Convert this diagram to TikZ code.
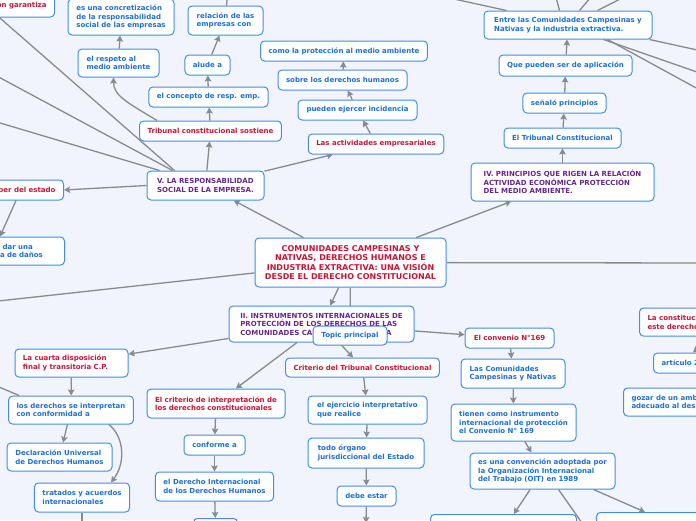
\documentclass[tikz,border=0pt]{standalone}
\usepackage{fontspec}
\setmainfont{DejaVu Sans}
\usepackage{tikz}
\usetikzlibrary{arrows.meta, backgrounds}
\definecolor{canvascolor}{RGB}{241,244,253}
\definecolor{bordercolor}{RGB}{66,142,228}
\definecolor{ideablue}{RGB}{28,112,214}
\definecolor{ideared}{RGB}{198,22,56}
\definecolor{ideapurple}{RGB}{104,38,140}
\definecolor{linkcolor}{RGB}{138,138,142}

\begin{document}
\begin{tikzpicture}[x=1pt, y=-1pt,
    idea/.style={draw=bordercolor, fill=white, line width=1pt, rounded corners=4pt, inner xsep=8pt, inner ysep=2pt, align=left, font=\fontsize{7}{8.5}\selectfont\bfseries},
    bluetxt/.style={idea, text=ideablue},
    redtxt/.style={idea, text=ideared},
    purpletxt/.style={idea, text=ideapurple},
    link/.style={linkcolor, line width=1.3pt, -{Stealth[length=6pt, width=6.5pt, inset=1pt]}}]

    \useasboundingbox (0,0) rectangle (696,520);

    % Central topic
    \node[idea, text=ideared, align=center, font=\fontsize{8}{9.6}\selectfont\bfseries, minimum width=191, minimum height=49] (central) at (350.5,262.5) {COMUNIDADES CAMPESINAS Y\\NATIVAS, DERECHOS HUMANOS E\\INDUSTRIA EXTRACTIVA: UNA VISIÓN\\DESDE EL DERECHO CONSTITUCIONAL};

    % V. Responsabilidad social
    \node[purpletxt, minimum width=117, minimum height=29] (respemp) at (205.5,185.5) {V. LA RESPONSABILIDAD\\SOCIAL DE LA EMPRESA.};
    \node[redtxt, minimum width=141, minimum height=20] (tribsost) at (210.5,131) {Tribunal constitucional sostiene};
    \node[bluetxt, minimum width=117, minimum height=20] (concepto) at (208.5,97) {el concepto de resp. emp.};
    \node[bluetxt, minimum width=45, minimum height=20] (alude) at (207.5,65) {alude a};
    \node[bluetxt, minimum width=75, minimum height=29] (relacion) at (225.5,20.5) {relación de las\\empresas con};
    \node[bluetxt, minimum width=81, minimum height=28] (respeto) at (118.5,63) {el respeto al\\medio ambiente};
    \node[bluetxt, minimum width=106, minimum height=36] (concret) at (121,17) {es una concretización\\de la responsabilidad\\social de las empresas};
    \node[redtxt, anchor=east, minimum height=23] (garantiza) at (55,5.5) {Constitución garantiza};
    \node[redtxt, anchor=east, minimum height=20] (deber) at (64,190) {Deber del estado};
    \node[bluetxt, anchor=west, text width=61, minimum height=28] (danos) at (-13,251) {o dar una\\va de daños};

    % Actividades empresariales
    \node[redtxt, minimum width=134, minimum height=20] (activ) at (376,144) {Las actividades empresariales};
    \node[bluetxt, minimum width=119, minimum height=20] (incid) at (357.5,110) {pueden ejercer incidencia};
    \node[bluetxt, minimum width=129, minimum height=20] (ddhh) at (342.5,80) {sobre los derechos humanos};
    \node[bluetxt, minimum width=166, minimum height=20] (protec) at (344,51) {como la protección al medio ambiente};

    % IV. Principios
    \node[purpletxt, minimum width=183, minimum height=38] (princ) at (562.5,182) {IV. PRINCIPIOS QUE RIGEN LA RELACIÓN\\ACTIVIDAD ECONÓMICA PROTECCIÓN\\DEL MEDIO AMBIENTE.};
    \node[bluetxt, minimum width=117, minimum height=20] (tcons) at (562.5,138) {El Tribunal Constitucional};
    \node[bluetxt, minimum width=83, minimum height=20] (senalo) at (564.5,103) {señaló principios};
    \node[bluetxt, minimum width=133, minimum height=21] (aplic) at (565.5,65.5) {Que pueden ser de aplicación};
    \node[bluetxt, minimum width=168, minimum height=28] (entre) at (568,25) {Entre las Comunidades Campesinas y\\Nativas y la industria extractiva.};

    % II. Instrumentos internacionales
    \node[purpletxt, minimum width=185, minimum height=36] (instr) at (321.5,324) {II. INSTRUMENTOS INTERNACIONALES DE\\PROTECCIÓN DE LOS DERECHOS DE LAS\\COMUNIDADES CAMPESINAS Y NATIVA};
    \node[bluetxt, minimum width=74, minimum height=19] (topic) at (350,335.5) {Topic principal};

    \node[redtxt, text width=97, minimum height=28] (cuarta) at (71.5,363) {La cuarta disposición\\final y transitoria C.P.};
    \node[bluetxt, minimum width=124, minimum height=28] (interp) at (71,410) {los derechos se interpretan\\con conformidad a};
    \node[bluetxt, minimum width=105, minimum height=28] (decl) at (59.5,457) {Declaración Universal\\de Derechos Humanos};
    \node[bluetxt, minimum width=94, minimum height=29] (trat) at (82,497.5) {tratados y acuerdos\\internacionales};

    \node[redtxt, minimum width=138, minimum height=29] (critint) at (216,403.5) {El criterio de interpretación de\\los derechos constitucionales};
    \node[bluetxt, minimum width=61, minimum height=20] (conforme) at (214.5,445) {conforme a};
    \node[bluetxt, minimum width=117, minimum height=29] (dih) at (214.5,486.5) {el Derecho Internacional\\de los Derechos Humanos};
    \node[bluetxt, anchor=north west, minimum width=44, minimum height=22] (dihnext) at (193,518) {};

    \node[redtxt, minimum width=153, minimum height=19] (critc) at (362.5,367.5) {Criterio del Tribunal Constitucional};
    \node[bluetxt, minimum width=119, minimum height=28] (ejerc) at (367.5,410) {el ejercicio interpretativo\\que realice};
    \node[bluetxt, minimum width=116, minimum height=30] (organo) at (366,453) {todo órgano\\jurisdiccional del Estado};
    \node[bluetxt, minimum width=59, minimum height=20] (debe) at (366.5,496) {debe estar};

    \node[redtxt, minimum width=89, minimum height=20] (convenio) at (509.5,338) {El convenio N°169};
    \node[bluetxt, minimum width=104, minimum height=29] (comun) at (513,373.5) {Las Comunidades\\Campesinas y Nativas};
    \node[bluetxt, minimum width=125, minimum height=37] (tienen) at (513.5,422.5) {tienen como instrumento\\internacional de protección\\el Convenio N° 169};
    \node[bluetxt, minimum width=145, minimum height=36] (oit) at (542.5,471) {es una convención adoptada por\\la Organización Internacional\\del Trabajo (OIT) en 1989};
    \node[bluetxt, anchor=north west, minimum width=146, minimum height=30] (oitleft) at (430,514) {};
    \node[bluetxt, anchor=north west, minimum width=130, minimum height=30] (oitright) at (596,512) {};

    % Right edge
    \node[redtxt, anchor=west, minimum height=28] (constit) at (639,322) {La constitución\\este derecho};
    \node[bluetxt, anchor=west, minimum height=20] (artic) at (653,363) {artículo 2};
    \node[bluetxt, anchor=west, minimum height=28] (gozar) at (623,402) {gozar de un ambiente\\adecuado al desarrollo};

    % Free ends outside the frame
    \coordinate (offA) at (-20,0.6);
    \coordinate (offB) at (-20,67);
    \coordinate (offC) at (-20,117);
    \coordinate (offG) at (228,-10);
    \coordinate (offL) at (-20,303);
    \coordinate (offR) at (720,263);
    \coordinate (offLL) at (-20,379);
    \coordinate (offT) at (82,545);
    \coordinate (offD) at (366,523);
    \coordinate (offE) at (594,540);
    \coordinate (offF) at (712,336);
    \coordinate (offH1) at (413,-10);
    \coordinate (offH2) at (554,-10);
    \coordinate (offH3) at (597,-10);
    \coordinate (offH4) at (638,-10);
    \coordinate (offK1) at (720,55);
    \coordinate (offK2) at (720,80);
    \coordinate (offK3) at (720,101);

    \begin{scope}[on background layer]
        \fill[canvascolor] (0,0) rectangle (696,520);

        % Links of V.
        \draw[link] (central) -- (respemp);
        \draw[link] (respemp) -- (tribsost);
        \draw[link] (tribsost) -- (concepto);
        \draw[link] (concepto) -- (alude);
        \draw[link] (alude) -- (relacion);
        \draw[link] ([xshift=39]relacion.north west) -- (offG);
        \draw[link] ([xshift=18]tribsost.north west) .. controls +(-30,-18) and +(0,18) .. ([xshift=-5]respeto.south);
        \draw[link] (respeto) -- (concret);
        \draw[link] ([xshift=28]respemp.north west) -- (offA);
        \draw[link] ([xshift=26]respemp.north west) -- (offB);
        \draw[link] ([xshift=13]respemp.north west) -- (offC);
        \draw[link] (respemp.west) -- (deber.east);
        \draw[link] ([xshift=-48]deber.south east) -- ([xshift=13]danos.north west);
        \draw[link] (respemp) -- (activ);
        \draw[link] (activ) -- (incid);
        \draw[link] (incid) -- (ddhh);
        \draw[link] (ddhh) -- (protec);

        % Links of IV.
        \draw[link] (central) -- (princ);
        \draw[link] (princ) -- (tcons);
        \draw[link] (tcons) -- (senalo);
        \draw[link] (senalo) -- (aplic);
        \draw[link] (aplic) -- (entre);
        \draw[link] ([xshift=23]entre.north west) -- (offH1);
        \draw[link] ([xshift=76]entre.north west) -- (offH2);
        \draw[link] ([xshift=96]entre.north west) -- (offH3);
        \draw[link] ([xshift=114]entre.north west) -- (offH4);
        \draw[link] ([xshift=-3]entre.south east) -- (offK1);
        \draw[link] ([xshift=-49]entre.south east) -- (offK2);
        \draw[link] ([xshift=-45]entre.south east) -- (offK3);

        % Other links of the centre
        \draw[link] (central) -- (offR);
        \draw[link] (central) -- (offL);
        \draw[link] (central) -- (instr);
        \draw[link] (central) -- (topic);

        % Links of II.
        \draw[link] (instr) -- (cuarta);
        \draw[link] (instr) -- (critint);
        \draw[link] (instr) -- (critc);
        \draw[link] (instr) -- (convenio);
        \draw[link] (cuarta) -- (interp);
        \draw[link] ([xshift=11]interp.north west) -- (offLL);
        \draw[link] (interp) -- (decl);
        \draw[link] ([xshift=-25]interp.south east) .. controls +(15,12) and +(15,-20) .. ([xshift=-19]trat.north east);
        \draw[link] (trat) -- (offT);
        \draw[link] (critint) -- (conforme);
        \draw[link] (conforme) -- (dih);
        \draw[link] (dih) -- (dihnext);
        \draw[link] (critc) -- (ejerc);
        \draw[link] (ejerc) -- (organo);
        \draw[link] (organo) -- (debe);
        \draw[link] (debe) -- (offD);
        \draw[link] (convenio) -- (comun);
        \draw[link] (comun) -- (tienen);
        \draw[link] (tienen) -- (oit);
        \draw[link] (oit) -- (oitleft);
        \draw[link] ([xshift=-57]oit.south east) -- (offE);
        \draw[link] ([xshift=-22]oit.south east) -- ([xshift=49]oitright.north west);
        \draw[link] (offF) -- ([xshift=40]artic.north west);
    \end{scope}
\end{tikzpicture}
\end{document}
